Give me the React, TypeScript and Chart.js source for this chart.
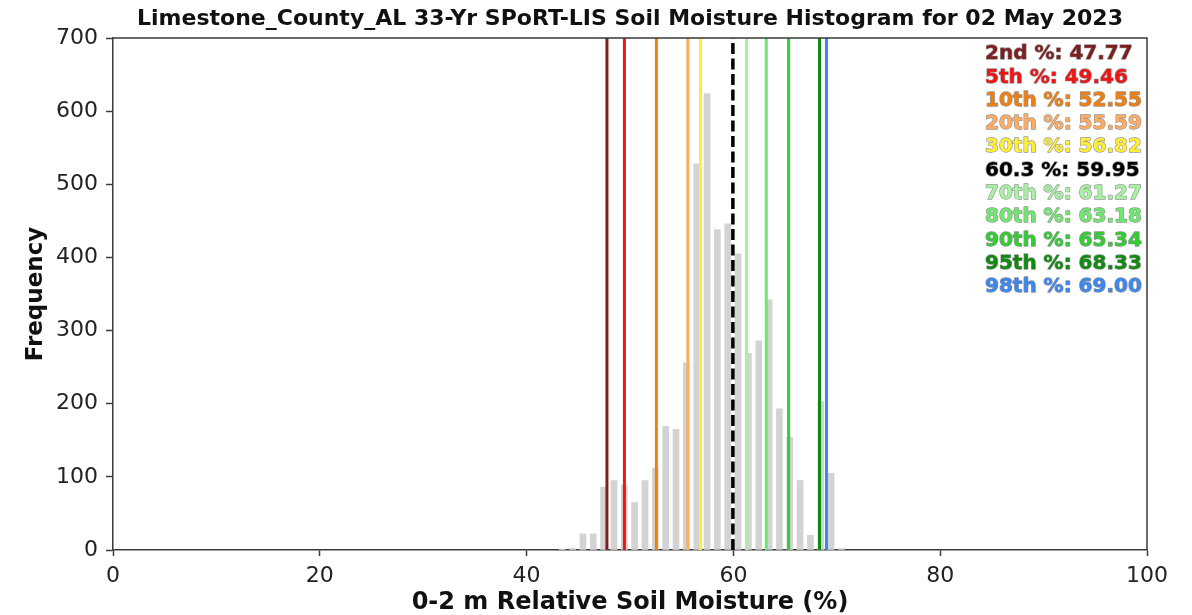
import React, { useEffect, useRef } from "react";
import { Chart, registerables } from "chart.js";

Chart.register(...registerables);

const titleText = "Limestone_County_AL 33-Yr SPoRT-LIS Soil Moisture Histogram for 02 May 2023";
const xAxisTitle = "0-2 m Relative Soil Moisture (%)";
const yAxisTitle = "Frequency";

const binCenters = [
  43.45, 44.45, 45.45, 46.45, 47.45, 48.45, 49.45, 50.45, 51.45, 52.45, 53.45, 54.45, 55.45, 56.45,
  57.45, 58.45, 59.45, 60.45, 61.45, 62.45, 63.45, 64.45, 65.45, 66.45, 67.45, 68.45, 69.45, 70.45,
];
const binCounts = [
  1, 2, 22, 22, 86, 95, 89, 65, 95, 112, 169, 165, 256, 528,
  624, 438, 446, 405, 269, 286, 342, 193, 154, 95, 20, 203, 105, 2,
];

const percentileNames = ["2nd", "5th", "10th", "20th", "30th", "60.3", "70th", "80th", "90th", "95th", "98th"];
const percentileValues = [47.77, 49.46, 52.55, 55.59, 56.82, 59.95, 61.27, 63.18, 65.34, 68.33, 69.0];
const percentileColors = [
  "#7e1f1f", "#f01414", "#f07f10", "#ffab62", "#ffee33", "#000000",
  "#a6f2a0", "#6ee86e", "#33cc33", "#0f8c0f", "#3b87f0",
];

const xTicks = [0, 20, 40, 60, 80, 100];
const yTicks = [0, 100, 200, 300, 400, 500, 600, 700];

const FONT = "'DejaVu Sans', sans-serif";

const titlePlugin = {
  id: "plotTitle",
  afterDraw(chart: any) {
    const { ctx, chartArea } = chart;
    ctx.save();
    ctx.font = `bold 22px ${FONT}`;
    ctx.fillStyle = "#111";
    ctx.textAlign = "center";
    ctx.textBaseline = "middle";
    ctx.fillText(titleText, (chartArea.left + chartArea.right) / 2, 19);
    ctx.restore();
  },
};

const framePlugin = {
  id: "frame",
  afterDatasetsDraw(chart: any) {
    const { ctx, chartArea } = chart;
    ctx.save();
    ctx.strokeStyle = "#3a3a3a";
    ctx.lineWidth = 1.5;
    ctx.beginPath();
    ctx.moveTo(chartArea.left, chartArea.top);
    ctx.lineTo(chartArea.right, chartArea.top);
    ctx.lineTo(chartArea.right, chartArea.bottom);
    ctx.stroke();
    ctx.restore();
  },
};

const percentileTextPlugin = {
  id: "percentileText",
  afterDraw(chart: any) {
    const { ctx } = chart;
    ctx.save();
    ctx.font = `bold 20px ${FONT}`;
    ctx.textBaseline = "middle";
    ctx.textAlign = "left";
    ctx.lineJoin = "round";
    percentileNames.forEach((name, i) => {
      const text = `${name} %: ${percentileValues[i].toFixed(2)}`;
      const y = 54 + i * 23.3;
      ctx.strokeStyle = "rgba(40,40,40,0.5)";
      ctx.lineWidth = 1.3;
      ctx.strokeText(text, 985, y);
      ctx.fillStyle = percentileColors[i];
      ctx.fillText(text, 985, y);
    });
    ctx.restore();
  },
};

export default function App() {
  const canvasRef = useRef<HTMLCanvasElement | null>(null);

  useEffect(() => {
    if (!canvasRef.current) return;
    Chart.defaults.font.family = FONT;

    const lineSets = percentileValues.map((v, i) => ({
      type: "line" as const,
      label: percentileNames[i],
      data: [
        { x: v, y: yTicks[0] },
        { x: v, y: yTicks[yTicks.length - 1] },
      ],
      borderColor: percentileColors[i],
      borderWidth: i === 5 ? 3.5 : 3,
      borderDash: i === 5 ? [11, 4.5] : [],
      pointRadius: 0,
      fill: false,
      order: 0,
    }));

    const chart = new Chart(canvasRef.current, {
      type: "bar",
      data: {
        datasets: [
          ...lineSets,
          {
            type: "bar" as const,
            label: "hist",
            data: binCenters.map((c, i) => ({ x: c, y: binCounts[i] })),
            backgroundColor: "#d3d3d3",
            borderWidth: 0,
            barThickness: 6,
            order: 1,
          },
        ] as any,
      },
      options: {
        responsive: false,
        animation: false,
        layout: { padding: { left: 22, right: 45, top: 38, bottom: 0 } },
        plugins: {
          legend: { display: false },
          tooltip: { enabled: false },
          title: { display: false },
        },
        scales: {
          x: {
            type: "linear",
            min: xTicks[0],
            max: xTicks[xTicks.length - 1],
            offset: false,
            afterBuildTicks: (scale: any) => {
              scale.ticks = xTicks.map((v) => ({ value: v }));
            },
            afterFit: (scale: any) => {
              scale.height = 65;
            },
            grid: { drawOnChartArea: false, offset: false, tickLength: 6, tickColor: "#3a3a3a", tickWidth: 1.5 },
            border: { display: true, color: "#3a3a3a", width: 1.5 },
            ticks: { color: "#222", font: { size: 22, family: FONT }, padding: 7, maxRotation: 0 },
            title: {
              display: true,
              text: xAxisTitle,
              color: "#111",
              font: { size: 24, weight: "bold", family: FONT, lineHeight: 1 },
              padding: { top: 0, bottom: 0 },
            },
          },
          y: {
            type: "linear",
            min: yTicks[0],
            max: yTicks[yTicks.length - 1],
            afterBuildTicks: (scale: any) => {
              scale.ticks = yTicks.map((v) => ({ value: v }));
            },
            afterFit: (scale: any) => {
              scale.width = 91;
            },
            grid: { drawOnChartArea: false, tickLength: 7, tickColor: "#3a3a3a", tickWidth: 1.5 },
            border: { display: true, color: "#3a3a3a", width: 1.5 },
            ticks: { color: "#222", font: { size: 22, family: FONT }, padding: 8 },
            title: {
              display: true,
              text: yAxisTitle,
              color: "#111",
              font: { size: 23, weight: "bold", family: FONT, lineHeight: 1.2 },
              padding: { top: 0, bottom: 0 },
            },
          },
        },
      } as any,
      plugins: [framePlugin, percentileTextPlugin, titlePlugin],
    });

    return () => chart.destroy();
  }, []);

  return (
    <div style={{ position: "fixed", left: 0, top: 0, width: 1192, height: 615, background: "#fff" }}>
      <canvas ref={canvasRef} width={1192} height={615} style={{ display: "block" }} />
    </div>
  );
}
